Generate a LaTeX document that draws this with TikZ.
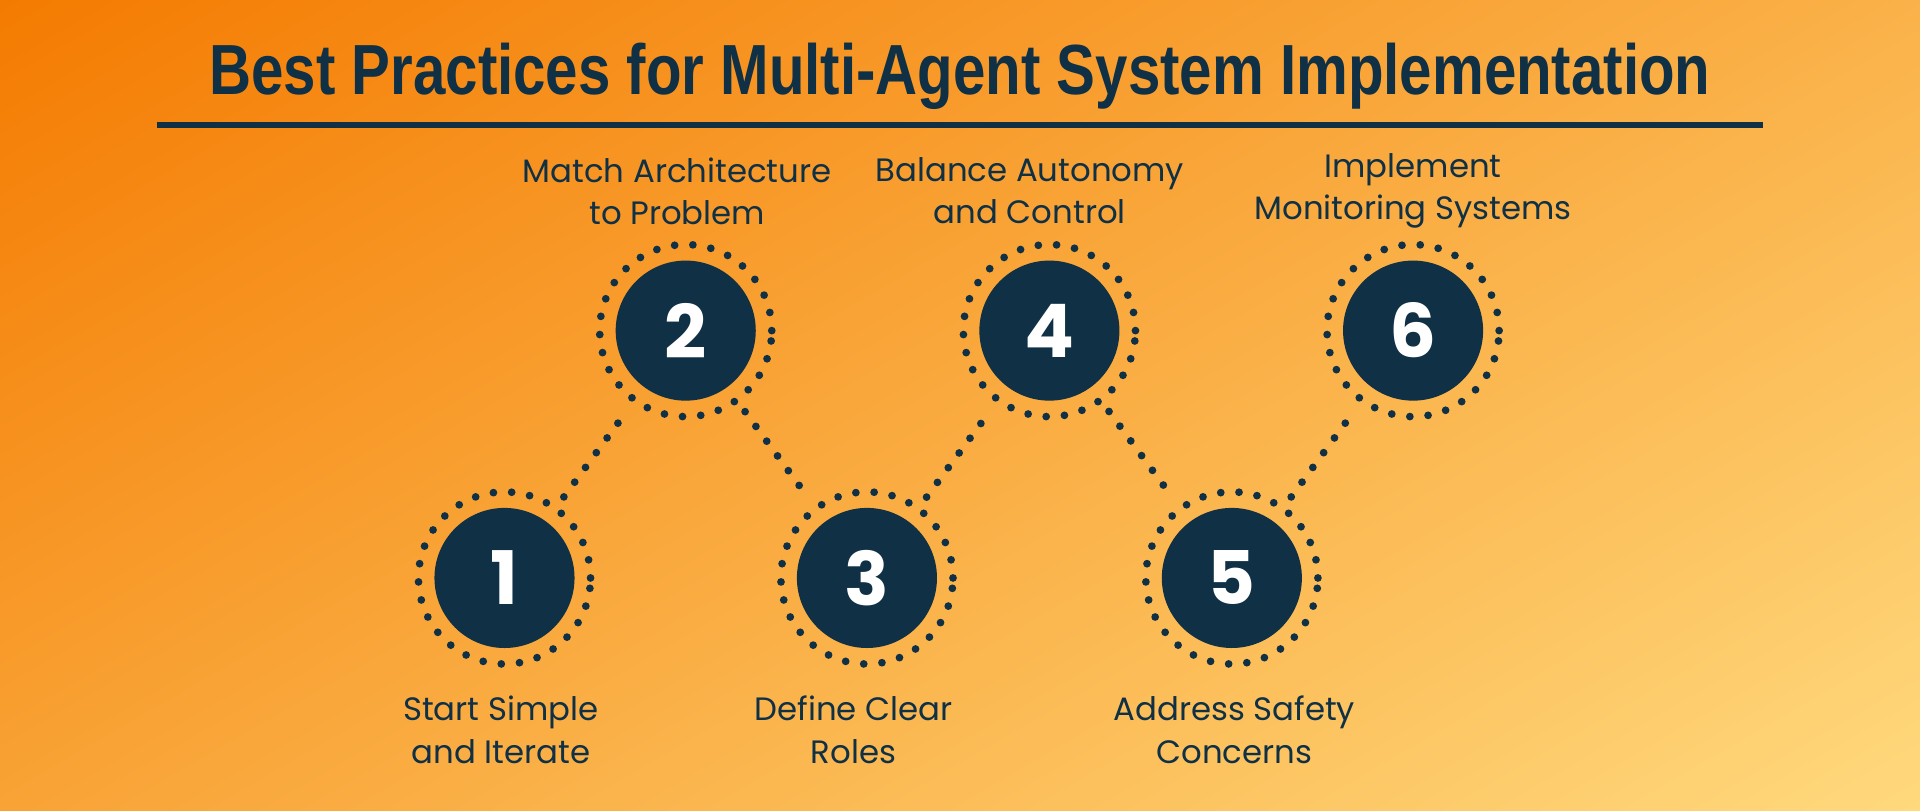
\documentclass[tikz,border=0pt]{standalone}
\usepackage{fontspec}
\setmainfont{Poppins}
\newfontfamily\titlefont{Liberation Sans}
\usetikzlibrary{positioning}
\definecolor{navy}{HTML}{0F3045}
\definecolor{bgtop}{HTML}{F47A00}
\definecolor{bgbot}{HTML}{FFDA7E}
\tikzset{
  dot/.style={draw=navy,line width=2.2pt,line cap=round,dash pattern=on 0pt off 5.2pt},
  stepdisc/.style={circle,fill=navy,minimum size=1.4cm,inner sep=0pt,text=white,font=\bfseries\fontsize{21}{21}\selectfont},
  ring/.style={circle,dot,minimum size=1.72cm,inner sep=0pt},
  lbl/.style={text=navy,align=center,font=\fontsize{9.2}{12}\selectfont}
}
\begin{document}
\begin{tikzpicture}[x=0.012245cm,y=-0.012245cm]
  \useasboundingbox (0,0) rectangle (1568,662);
  \fill[shading=axis,top color=bgtop,bottom color=bgbot,shading angle=30] (-200,-200) rectangle (1768,862);

  %titel
  \node[text=navy] (title) at (784,62) {\resizebox{15cm}{!}{\titlefont\bfseries\fontsize{20}{20}\selectfont\addfontfeature{FakeStretch=0.82}Best Practices for Multi-Agent System Implementation}};
  \draw[navy,line width=1.6pt] (128,102) -- (1440,102);

  %kreise
  \foreach \n/\x/\y in {1/412/472,2/560/270,3/708/472,4/857/270,5/1006/472,6/1154/270}{
    \node[ring] (r\n) at (\x,\y) {};
    \node[stepdisc] (s\n) at (\x,\y) {\n};
  }
  \foreach \a [evaluate={\b=int(\a+1);}] in {1,...,5}{
    \draw[dot,shorten >=3pt,shorten <=3pt] (r\a) -- (r\b);
  }

  %texte
  \node[lbl] (t2) at (553,156) {Match Architecture\\to Problem};
  \node[lbl] (t4) at (841,156) {Balance Autonomy\\and Control};
  \node[lbl] (t6) at (1154,156) {Implement\\Monitoring Systems};
  \node[lbl] (t1) at (409,596) {Start Simple\\and Iterate};
  \node[lbl] (t3) at (697,596) {Define Clear\\Roles};
  \node[lbl] (t5) at (1008,596) {Address Safety\\Concerns};
\end{tikzpicture}
\end{document}
